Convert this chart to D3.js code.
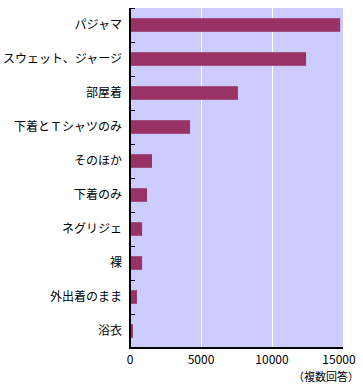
<html lang="ja">

<head>
  <meta charset="utf-8">
  <title>寝るときの服装</title>
  <script type="text/javascript" src="https://d3js.org/d3.v7.min.js"></script>
  <style>
    body { margin: 0; background: #fff; }
    text { font-family: "Noto Sans CJK JP", sans-serif; font-size: 12px; fill: #000; }
  </style>
</head>

<body>
  <svg width="363" height="387"></svg>
  <script>
    const categories = ["パジャマ", "スウェット、ジャージ", "部屋着", "下着とＴシャツのみ", "そのほか",
      "下着のみ", "ネグリジェ", "裸", "外出着のまま", "浴衣"];
    const values = [14800, 12400, 7600, 4230, 1550, 1200, 850, 850, 490, 210];
    const xTicks = [0, 5000, 10000, 15000];
    const note = "（複数回答）";

    const svg = d3.select("svg");
    const plotLeft = 130, plotRight = 343, plotTop = 8, plotBottom = 348;

    const x = d3.scaleLinear().domain([0, 15000]).range([plotLeft, plotRight]);
    const y = d3.scaleBand()
      .domain(categories)
      .range([plotTop, plotBottom])
      .paddingInner(0.6)
      .paddingOuter(0.3);

    // plot background
    svg.append("rect")
      .attr("x", plotLeft).attr("y", plotTop)
      .attr("width", plotRight - plotLeft).attr("height", plotBottom - plotTop)
      .attr("fill", "#ccccff");

    // grid lines
    svg.selectAll("line.grid")
      .data(xTicks.slice(1, -1))
      .enter()
      .append("line")
      .attr("class", "grid")
      .attr("x1", d => Math.round(x(d)) + 0.5).attr("x2", d => Math.round(x(d)) + 0.5)
      .attr("y1", plotTop).attr("y2", plotBottom)
      .attr("stroke", "#fff")
      .attr("stroke-width", 1);

    // bars
    svg.selectAll("rect.bar")
      .data(categories)
      .enter()
      .append("rect")
      .attr("class", "bar")
      .attr("x", plotLeft)
      .attr("y", d => y(d))
      .attr("width", (d, i) => x(values[i]) - plotLeft)
      .attr("height", y.bandwidth())
      .attr("fill", "#993366");

    // category labels
    svg.selectAll("text.cat")
      .data(categories)
      .enter()
      .append("text")
      .attr("class", "cat")
      .attr("x", 122)
      .attr("y", d => y(d) + y.bandwidth() / 2)
      .attr("dy", "0.35em")
      .attr("text-anchor", "end")
      .text(d => d);

    // tick marks between categories (inward)
    const step = y.step();
    const bounds = d3.range(categories.length).map(i => Math.round(plotTop + i * step) + 0.5);
    svg.selectAll("line.ytick")
      .data(bounds)
      .enter()
      .append("line")
      .attr("class", "ytick")
      .attr("x1", plotLeft).attr("x2", plotLeft + 5)
      .attr("y1", d => d).attr("y2", d => d)
      .attr("stroke", "#000");

    // axis lines
    svg.append("line")
      .attr("x1", plotLeft).attr("x2", plotLeft)
      .attr("y1", plotTop).attr("y2", plotBottom + 1)
      .attr("stroke", "#000").attr("stroke-width", 2);
    svg.append("line")
      .attr("x1", plotLeft - 1).attr("x2", plotRight)
      .attr("y1", plotBottom).attr("y2", plotBottom)
      .attr("stroke", "#000").attr("stroke-width", 2);

    // x tick labels
    svg.selectAll("text.xlab")
      .data(xTicks)
      .enter()
      .append("text")
      .attr("class", "xlab")
      .attr("x", (d, i) => x(d) - (i === xTicks.length - 1 ? 4 : 0))
      .attr("y", 364)
      .attr("text-anchor", "middle")
      .text(d => d);

    svg.append("text")
      .attr("x", 359)
      .attr("y", 381)
      .attr("text-anchor", "end")
      .style("font-size", "11px")
      .text(note);
  </script>
</body>

</html>
